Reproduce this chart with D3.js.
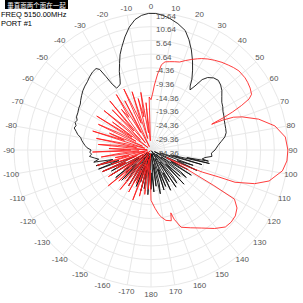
<!DOCTYPE html>
<html><head><meta charset="utf-8">
<script src="https://cdn.jsdelivr.net/npm/d3@7/dist/d3.min.js"></script>
<style>body{margin:0;background:#fff}svg{display:block}</style>
</head><body>
<svg id="c" width="303" height="303"></svg>
<script>
const titleText = "垂直面两个面在一起";
const infoLines = ["FREQ 5150.00MHz", "PORT #1"];
const radialTicks = [-34.36,-29.36,-24.36,-19.36,-14.36,-9.36,-4.36,0.64,5.64,10.64,15.64];
const angleTicks = [0,10,20,30,40,50,60,70,80,90,100,110,120,130,140,150,160,170,180,190,200,210,220,230,240,250,260,270,280,290,300,310,320,330,340,350];
const angleTickLabels = ["0","10","20","30","40","50","60","70","80","90","100","110","120","130","140","150","160","170","180","-170","-160","-150","-140","-130","-120","-110","-100","-90","-80","-70","-60","-50","-40","-30","-20","-10"];

// Black series (degrees clockwise from top, dB)
const blackAngles = [-98,-96,-94,-92,-90,-88,-86,-84,-82,-80,-78,-76,-74,-72,-70,-68,-66,-63,-60,-57,-55,-52,-49,-46,-43,-40,-37,-34,-32.5,-31.5,-30.5,-29,-27,-25,-23.5,-22,-20,-18,-16,-13,-10,-7,-4,-1,2,5,8,12,16,19,22,25,27.5,30,31.5,33,34.5,36,38,41,44,47,50,53,56,59,62,65,68,71,74,77,80,83,86,90,93,96,98,100,
 101,102,103,104,106,108,110,112,114,116,118,120,122,124,126,128,130,132,134,136,138,140,142,144,146,148,150,152,154,156,158,160,162,164,166,168,170,172,174,176,178,180,182,184,186,188,190,192,194,196,198,200,202,204,206,208,210,212,214,216,218,220,222,224,226,228,230,232,234,236,238,240,242,244,246,248,250,252,254,256,258,260];
const blackValues = [-13.5,-11.8,-12.6,-12.0,-12.5,-11,-10.2,-9.5,-8.8,-8.3,-7.0,-6.2,-5.2,-5.6,-4.9,-5.3,-4.6,-4.4,-3.9,-3.6,-3.0,-2.2,-1.4,-0.8,-0.3,0.5,1.2,1.5,0.5,-3,-6.5,-8.5,-8.3,-7.8,-6,-3.5,-0.8,2.2,4.5,8,11.2,13.6,14.9,15.5,15.5,15.0,14.2,12.8,11.0,8.2,5.0,1.5,-1.5,-4.5,-7,-8.2,-6,-2.6,-0.8,0.5,1.0,0.4,-0.6,-2.0,-3.2,-3.8,-4.6,-5.0,-5.5,-5.8,-6.0,-6.2,-7.0,-8.5,-9.8,-11,-12.3,-12.0,-14.5,-15.4,
 -13,-21,-12.5,-27,
 -15,-31,-18,-24,-16,-33,-19,-26,-17,-30,
 -21,-18,-32,-20,-27,-17,-33,-22,-19,-29,
 -18,-34,-21,-25,-18,-31,-20,-27,-19,-33,
 -22,-18,-29,-21,-33,-19,-26,-20,-31,-18,
 -24,-33,-20,-27,-19,-32,-22,-28,-20,-33,
 -23,-21,-30,-19,-26,-33,-20,-24,-31,-19,
 -27,-22,-33,-18,-25,-29,-17,-31,-18,-24,
 -15,-28,-14,-22,-13.5,-20,-13,-15];

// Red series
const redAngles = [0,1.5,3,5,7,9,12,15,18,21,24,27,29,32,35.4,39,42.5,45,48,52.5,55,58,61,62.5,63.8,65,66,66.6,67,67.4,68.3,70,74,79,84.5,90,94.6,99,104.7,108,111,111.7,113.3,115,116,118,119.5,120.5,124,128,132,136,141,147,153,158.7,161.5,162.5,164,168,171,173,176,
 180,182,184,186,188,190,192,194,196,198,200,202,204,206,208,210,212,214,216,218,220,222,224,226,228,230,232,234,236,238,240,242,244,246,248,250,252,254,256,258,260,262,264,266,268,270,272,274,276,278,280,282,284,286,288,290,292,294,296,298,300,302,304,306,308,310,312,314,316,318,320,322,324,326,328,330,332,334,336,338,340,342,344,346,348,350,352,354,356,358,360];
const redValues = [-16,-14,-10.6,-6.5,-3,-1.8,-1.4,-1.0,-0.6,0.6,1.8,3.0,3.8,4.8,5.8,6.8,7.6,8.2,8.8,8.9,8.7,8.3,7.6,6.0,2.5,-1.5,-5.5,-9,-10.3,-6,-2,1,6.5,11.7,14.9,15.6,15.4,14.2,10.2,5.4,-1.5,-7.7,-14,-22,-28,-20,-8,1,3.5,4.7,5,4.7,2.5,-0.4,-2.5,-4.1,-7.7,-10.3,-7.5,-8.1,-9.5,-10.6,-13,
 -16,-27,-20,-33,-18,-22,-31,-17,-29,-24,
 -15,-32,-21,-26,-17,-33,-19,-28,-23,-16,
 -30,-20,-34,-18,-25,-14,-31,-22,-27,-16,
 -33,-20,-24,-15,-29,-19,-32,-14,-26,-21,
 -33,-16,-23,-30,-13,-27,-19,-33,-15,-22,
 -29,-14,-25,-32,-12,-24,-18,-31,-13,-21,
 -28,-11,-26,-17,-33,-12,-22,-29,-14,-25,
 -11,-31,-16,-20,-10.5,-27,-14,-33,-10,-19,
 -24,-12,-30,-15,-22,-13,-28,-17,-31,-15,
 -16];

const cx = 151, cy = 150, R = 137;
const svg = d3.select("#c");
const r = d3.scaleLinear().domain([radialTicks[0], radialTicks[radialTicks.length-1]]).range([0, R]);
const g = svg.append("g").attr("transform", `translate(${cx},${cy})`);
const rad = a => a * Math.PI / 180;

// grid
g.selectAll("circle.grid").data(radialTicks.slice(1)).join("circle")
  .attr("r", d => r(d)).attr("fill", "none").attr("stroke", "#e8e8e8").attr("stroke-width", 1);
g.selectAll("line.spoke").data(angleTicks).join("line")
  .attr("x1", 0).attr("y1", 0)
  .attr("x2", d => R * Math.sin(rad(d))).attr("y2", d => -R * Math.cos(rad(d)))
  .attr("stroke", "#e8e8e8").attr("stroke-width", 1);

// angle labels
g.selectAll("text.ang").data(angleTicks).join("text")
  .attr("x", d => 142 * Math.sin(rad(d)))
  .attr("y", d => -(142 + 2 * Math.abs(Math.cos(rad(d)))) * Math.cos(rad(d)))
  .attr("text-anchor", "middle").attr("dominant-baseline", "central")
  .attr("font-family", "Liberation Sans, Arial, sans-serif").attr("font-size", 8)
  .attr("fill", "#555").text((d, i) => angleTickLabels[i]);

// series
const line = d3.lineRadial().angle(d => rad(d[0])).radius(d => r(d[1]));
const blackData = blackAngles.map((a, i) => [a, blackValues[i]]);
const redData = redAngles.map((a, i) => [a, redValues[i]]);
g.append("path").datum(blackData).attr("d", line.curve(d3.curveLinearClosed))
  .attr("fill", "none").attr("stroke", "#111").attr("stroke-width", 0.9);
g.append("path").datum(redData).attr("d", line.curve(d3.curveLinear))
  .attr("fill", "none").attr("stroke", "#ff1a1a").attr("stroke-width", 0.85);

// radial labels
g.selectAll("text.rl").data(radialTicks).join("text")
  .attr("x", 5).attr("y", d => -r(d) + 3)
  .attr("dominant-baseline", "central")
  .attr("font-family", "Liberation Sans, Arial, sans-serif").attr("font-size", 8)
  .attr("fill", "#555").text(d => d.toFixed(2));

// title box and info
svg.append("rect").attr("x", 5).attr("y", 0).attr("width", 63).attr("height", 9).attr("fill", "#000");
svg.append("text").attr("x", 36.5).attr("y", 7.5).attr("text-anchor", "middle")
  .attr("font-family", "Noto Sans CJK SC").attr("font-size", 6.5).attr("fill", "#fff").text(titleText);
svg.selectAll("text.info").data(infoLines).join("text")
  .attr("x", 1).attr("y", (d, i) => 17 + i * 8.5)
  .attr("font-family", "Liberation Sans, Arial, sans-serif").attr("font-size", 7.5)
  .attr("fill", "#000").text(d => d);
</script>
</body></html>
